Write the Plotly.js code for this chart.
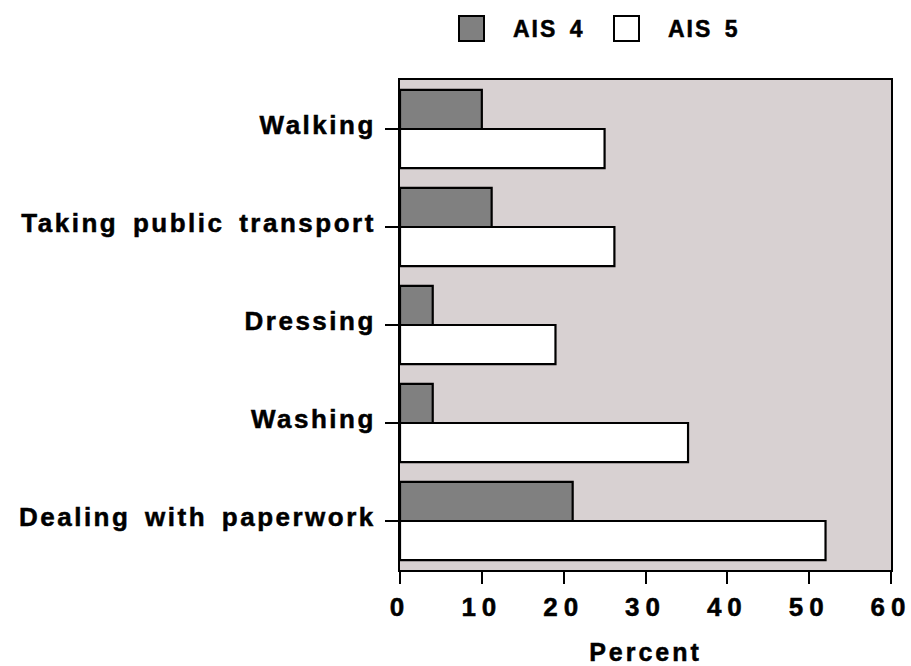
<!DOCTYPE html>
<html>
<head>
<meta charset="utf-8">
<script src="https://cdn.plot.ly/plotly-3.0.1.min.js"></script>
<style>
  html, body { margin: 0; padding: 0; background: #ffffff; }
  #chart { width: 911px; height: 666px; }
  .xtick text { letter-spacing: 6px; stroke: #000; stroke-width: 0.5px; }
  .ytick text { letter-spacing: 2.5px; word-spacing: 5px; stroke: #000; stroke-width: 0.5px; }
  .g-xtitle text { letter-spacing: 3px; stroke: #000; stroke-width: 0.5px; }
  .annotation-text { letter-spacing: 2px; word-spacing: 4px; stroke: #000; stroke-width: 0.5px; }
</style>
</head>
<body>
<div id="chart"></div>
<script>
// ---- data ----
var categories = ['Walking', 'Taking public transport', 'Dressing', 'Washing', 'Dealing with paperwork'];
var ais4Values = [10, 11.2, 4, 4, 21.1];
var ais5Values = [25, 26.2, 19, 35.2, 52];
var seriesNames = ['AIS 4', 'AIS 5'];
var xTickVals = [0, 10, 20, 30, 40, 50, 60];
var xTickText = ['0', '10', '20', '30', '40', '50', '60'];

// ---- layout geometry ----
var W = 911, H = 666;
var M = {l: 400, r: 20, t: 80, b: 96};
var plotW = W - M.l - M.r, plotH = H - M.t - M.b;
function px(x) { return (x - M.l) / plotW; }
function py(y) { return (H - M.b - y) / plotH; }

var FONT = 'Liberation Sans, Arial, sans-serif';

var traces = [
  {
    type: 'bar', orientation: 'h', name: seriesNames[0],
    y: categories, x: ais4Values,
    marker: {color: '#808080', line: {color: '#000000', width: 2.2}},
    showlegend: false, hoverinfo: 'x+y+name'
  },
  {
    type: 'bar', orientation: 'h', name: seriesNames[1],
    y: categories, x: ais5Values,
    marker: {color: '#ffffff', line: {color: '#000000', width: 2.2}},
    showlegend: false, hoverinfo: 'x+y+name'
  }
];

var legendShapes = [
  {type: 'rect', xref: 'paper', yref: 'paper', x0: px(459), x1: px(484), y0: py(41), y1: py(16),
   fillcolor: '#808080', line: {color: '#000000', width: 2}},
  {type: 'rect', xref: 'paper', yref: 'paper', x0: px(614), x1: px(639), y0: py(41), y1: py(16),
   fillcolor: '#ffffff', line: {color: '#000000', width: 2}}
];
var legendLabels = [
  {xref: 'paper', yref: 'paper', x: px(511), y: py(29), xanchor: 'left', yanchor: 'middle',
   text: seriesNames[0], showarrow: false, font: {family: FONT, size: 23, color: '#000', weight: 'bold'}},
  {xref: 'paper', yref: 'paper', x: px(666), y: py(29), xanchor: 'left', yanchor: 'middle',
   text: seriesNames[1], showarrow: false, font: {family: FONT, size: 23, color: '#000', weight: 'bold'}}
];

var layout = {
  width: W, height: H,
  margin: M,
  paper_bgcolor: '#ffffff',
  plot_bgcolor: '#d8d1d2',
  barmode: 'group',
  bargap: 0.2,
  bargroupgap: 0,
  showlegend: false,
  font: {family: FONT, color: '#000000'},
  xaxis: {
    range: [0, 60],
    tickmode: 'array', tickvals: xTickVals, ticktext: xTickText,
    ticks: 'outside', ticklen: 12, tickwidth: 2, tickcolor: '#000',
    showline: true, linecolor: '#000', linewidth: 2, mirror: true,
    showgrid: false, zeroline: false,
    tickfont: {family: FONT, size: 26, color: '#000', weight: 'bold'},
    ticklabelstandoff: 1,
    ticklabeloverflow: 'allow',
    title: {text: 'Percent', font: {family: FONT, size: 25, color: '#000', weight: 'bold'}, standoff: 27}
  },
  yaxis: {
    type: 'category',
    autorange: 'reversed',
    ticks: 'outside', ticklen: 13, tickwidth: 2, tickcolor: '#000',
    showline: true, linecolor: '#000', linewidth: 2, mirror: true,
    showgrid: false, zeroline: false,
    tickfont: {family: FONT, size: 26, color: '#000', weight: 'bold'},
    ticklabelstandoff: 4,
    ticklabelshift: 4
  },
  shapes: legendShapes,
  annotations: legendLabels
};

Plotly.newPlot('chart', traces, layout, {displayModeBar: false, staticPlot: true});
</script>
</body>
</html>
